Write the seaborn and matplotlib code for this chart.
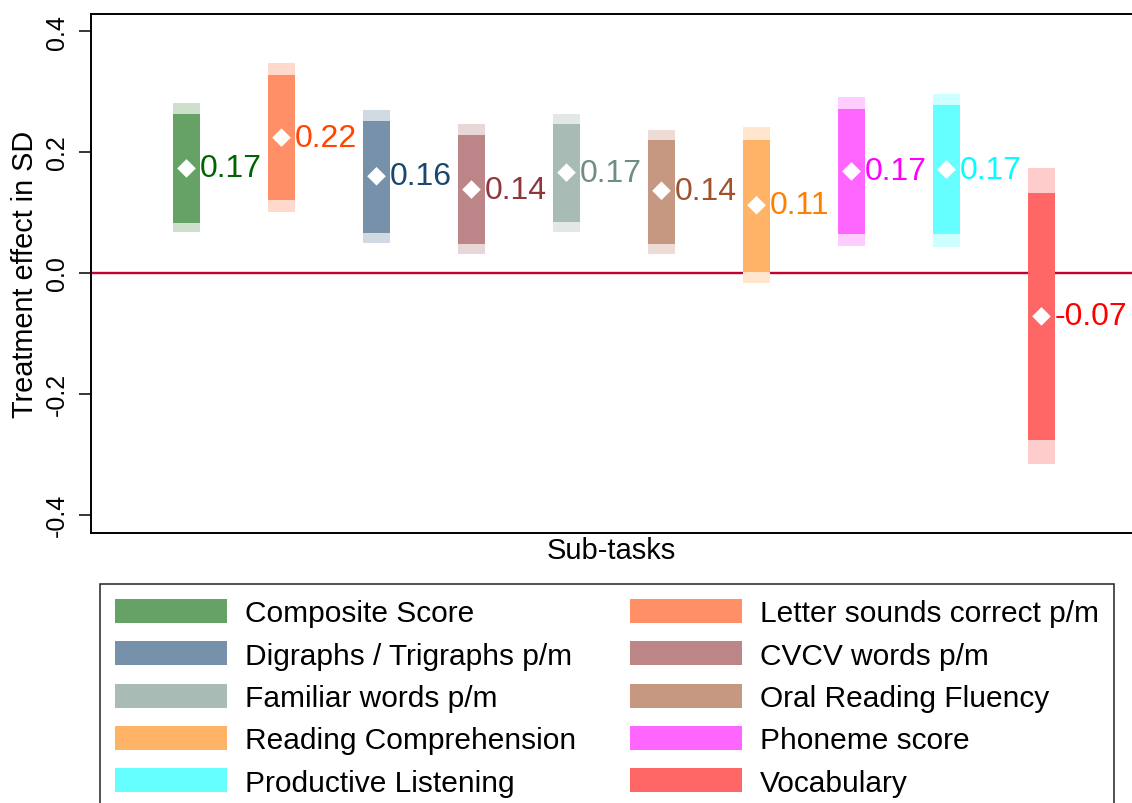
import numpy as np
import matplotlib
matplotlib.use("Agg")
import matplotlib.pyplot as plt
from matplotlib.colors import to_rgb
from matplotlib.patches import Patch
import seaborn as sns

# Sub-task names, in plotting order
tasks = [
    "Composite Score", "Letter sounds correct p/m", "Digraphs / Trigraphs p/m",
    "CVCV words p/m", "Familiar words p/m", "Oral Reading Fluency",
    "Reading Comprehension", "Phoneme score", "Productive Listening", "Vocabulary",
]
# Point estimates (SD units)
estimate = [0.173, 0.224, 0.160, 0.138, 0.166, 0.136, 0.112, 0.168, 0.171, -0.072]
# 90% confidence interval
ci90_low = [0.083, 0.121, 0.066, 0.048, 0.085, 0.048, 0.002, 0.064, 0.064, -0.277]
ci90_high = [0.263, 0.327, 0.251, 0.228, 0.247, 0.220, 0.220, 0.271, 0.278, 0.132]
# 95% confidence interval
ci95_low = [0.067, 0.101, 0.049, 0.032, 0.068, 0.032, -0.017, 0.045, 0.043, -0.316]
ci95_high = [0.281, 0.347, 0.270, 0.247, 0.263, 0.237, 0.241, 0.291, 0.297, 0.173]
# Base colour for each sub-task
base_colors = [
    "#006400", "#FF4500", "#1A476F", "#90353B", "#6E8E84",
    "#A0522D", "#FF8000", "#FF00FF", "#00FFFF", "#FF0000",
]
y_ticks = [-0.4, -0.2, 0.0, 0.2, 0.4]
y_tick_labels = ["-0.4", "-0.2", "0.0", "0.2", "0.4"]


def tint(color, strength):
    """Blend a colour with white (strength = share of the colour)."""
    rgb = np.array(to_rgb(color))
    return tuple(strength * rgb + (1 - strength) * np.ones(3))


sns.set_theme(style="ticks")
plt.rcParams["font.family"] = ["Liberation Sans", "DejaVu Sans"]
plt.rcParams["axes.unicode_minus"] = False
plt.rcParams["text.color"] = "black"
plt.rcParams["axes.labelcolor"] = "black"

W, H = 1132, 804
fig = plt.figure(figsize=(W / 100, H / 100), dpi=100)
ax_left, ax_right, ax_top, ax_bottom = 91, 1132, 14.7, 534
ax = fig.add_axes([ax_left / W, 1 - ax_bottom / H,
                   (ax_right - ax_left) / W, (ax_bottom - ax_top) / H])

xpos = np.arange(1, len(tasks) + 1)
bar_w = 0.284

ax.axhline(0, color="#C4002F", lw=1.7, zorder=1)

# 95% interval (light) and 90% interval (stronger) as floating bars
ax.bar(xpos, np.array(ci95_high) - np.array(ci95_low), bottom=ci95_low,
       width=bar_w, color=[tint(c, 0.2) for c in base_colors], zorder=2, linewidth=0)
ax.bar(xpos, np.array(ci90_high) - np.array(ci90_low), bottom=ci90_low,
       width=bar_w, color=[tint(c, 0.6) for c in base_colors], zorder=3, linewidth=0)

sns.scatterplot(x=xpos, y=estimate, marker="D", s=90, color="white",
                edgecolor="none", linewidth=0, zorder=5, ax=ax, legend=False)

for x, e, c in zip(xpos, estimate, base_colors):
    ax.text(x + 0.142, e, f"{e:.2f}", color=c, fontsize=23,
            ha="left", va="center", zorder=6)

ax.set_xlim(1 - (186.5 - ax_left) / 95, 1 + (ax_right - 186.5) / 95)
ax.set_ylim((273.9 - ax_bottom) / 604, (273.9 - ax_top) / 604)
ax.set_xticks([])
ax.set_yticks(y_ticks)
ax.set_yticklabels(y_tick_labels, rotation=90, va="center", fontsize=18)
ax.tick_params(axis="y", direction="out", length=8.6, width=1.1, pad=7.5,
               color="black", labelcolor="black")
for side in ["left", "top", "bottom"]:
    ax.spines[side].set_linewidth(1.4)
    ax.spines[side].set_color("black")
ax.spines["right"].set_visible(False)

ax.set_xlabel("Sub-tasks", fontsize=21, labelpad=2.5)
ax.set_ylabel("Treatment effect in SD", fontsize=20.8)
ax.yaxis.set_label_coords(-0.05, 0.5)

handles = [Patch(facecolor=tint(c, 0.6), edgecolor="none", label=t)
           for t, c in zip(tasks, base_colors)]
# two columns, filled row by row
ordered = handles[0::2] + handles[1::2]
leg = fig.legend(handles=ordered, ncol=2, loc="upper left",
                 bbox_to_anchor=(100 / W, 1 - 585 / H), bbox_transform=fig.transFigure,
                 borderaxespad=0, fontsize=21.5, handlelength=3.75, handleheight=0.87,
                 handletextpad=0.6, borderpad=0.5, labelspacing=0.465,
                 columnspacing=1.8, fancybox=False, framealpha=1, edgecolor="#222222",
                 labelcolor="black")
leg.get_frame().set_linewidth(1.1)

fig.savefig("out.png", dpi=100)
